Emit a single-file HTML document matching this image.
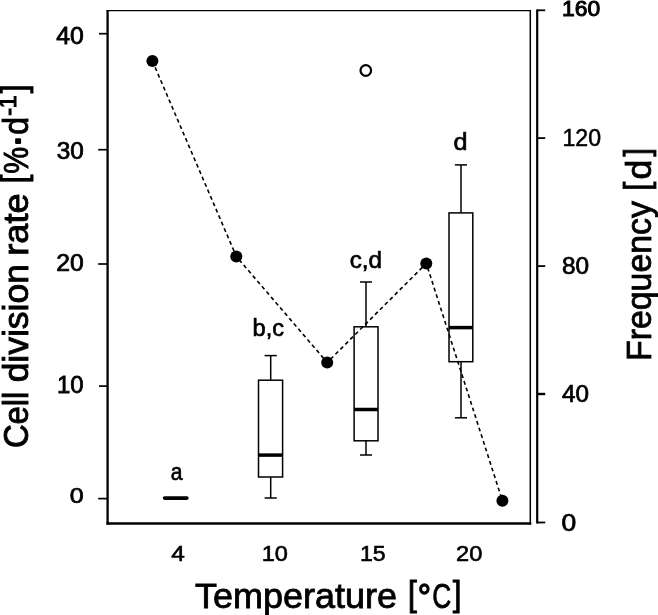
<!DOCTYPE html>
<html><head><meta charset="utf-8"><title>Cell division rate vs temperature</title>
<style>
html,body{margin:0;padding:0;background:#fff;}
svg{display:block;}
text{font-family:"Liberation Sans","DejaVu Sans",sans-serif;fill:#000;}
</style></head>
<body>
<svg width="658" height="615" viewBox="0 0 658 615">
<rect width="658" height="615" fill="#fff"/>
<!-- frame -->
<g stroke="#000" fill="none">
<line x1="107.6" y1="9.9" x2="107.6" y2="524.6" stroke-width="2.3"/>
<line x1="106.4" y1="523.5" x2="531.3" y2="523.5" stroke-width="2.5"/>
<line x1="106.5" y1="10.6" x2="530.9" y2="10.6" stroke-width="1.3"/>
<line x1="530.3" y1="10" x2="530.3" y2="524.6" stroke-width="1.5"/>
<!-- left ticks -->
<g stroke-width="1.7">
<line x1="99" y1="33.7" x2="107" y2="33.7"/>
<line x1="98.2" y1="149.7" x2="107" y2="149.7"/>
<line x1="98.2" y1="264" x2="107" y2="264"/>
<line x1="99" y1="386.1" x2="107" y2="386.1"/>
<line x1="98.2" y1="498.6" x2="107" y2="498.6"/>
</g>
<!-- right axis -->
<line x1="537.2" y1="9.4" x2="537.2" y2="523.4" stroke-width="2.2"/>
<g stroke-width="1.8">
<line x1="537" y1="10.3" x2="545.2" y2="10.3"/>
<line x1="537" y1="138.1" x2="545.2" y2="138.1"/>
<line x1="537" y1="266.1" x2="545.2" y2="266.1"/>
<line x1="537" y1="394" x2="545.2" y2="394" stroke-width="2.4"/>
<line x1="537" y1="522.5" x2="545.2" y2="522.5"/>
</g>
</g>
<!-- boxes -->
<g stroke="#000" stroke-width="1.5" fill="#fff">
<line x1="164.6" y1="498.1" x2="186.9" y2="498.1" stroke-width="3.6" stroke-linecap="round"/>
<!-- box 10 -->
<line x1="270.7" y1="355.6" x2="270.7" y2="498"/>
<line x1="264.6" y1="355.6" x2="276.8" y2="355.6"/>
<line x1="264.6" y1="498" x2="276.8" y2="498"/>
<rect x="258.5" y="380.2" width="24.1" height="96.8"/>
<line x1="258.5" y1="455.1" x2="282.6" y2="455.1" stroke-width="3.5"/>
<!-- box 15 -->
<line x1="366" y1="282" x2="366" y2="455"/>
<line x1="360" y1="282" x2="372" y2="282"/>
<line x1="360" y1="455" x2="372" y2="455"/>
<rect x="354.1" y="326.8" width="23.9" height="114"/>
<line x1="354.1" y1="409.5" x2="378" y2="409.5" stroke-width="3.5"/>
<!-- box 20 -->
<line x1="461" y1="164.9" x2="461" y2="417.8"/>
<line x1="454.9" y1="164.9" x2="467" y2="164.9"/>
<line x1="454.9" y1="417.8" x2="467" y2="417.8"/>
<rect x="449" y="212.9" width="23.8" height="148.8"/>
<line x1="449" y1="327.6" x2="472.8" y2="327.6" stroke-width="3.5"/>
</g>
<!-- dashed frequency line -->
<polyline points="152.4,61 236.3,256.4 327.2,362.5 426.3,263.4 502.4,500.7" fill="none" stroke="#000" stroke-width="1.6" stroke-dasharray="3.9 3.1"/>
<!-- points -->
<g fill="#000">
<circle cx="152.4" cy="61" r="6"/>
<circle cx="236.3" cy="256.4" r="6"/>
<circle cx="327.2" cy="362.5" r="6"/>
<circle cx="426.3" cy="263.4" r="6"/>
<circle cx="502.4" cy="500.7" r="6"/>
</g>
<circle cx="365.8" cy="70.5" r="5.3" fill="#fff" stroke="#000" stroke-width="2.2"/>
<g id="fitted">
<text id="l40" transform="translate(56.25,44.25) scale(1.0782,1)" font-size="23.00" stroke="#000" stroke-width="0.75">40</text>
<text id="l30" transform="translate(56.75,159.25) scale(1.0590,1)" font-size="23.00" stroke="#000" stroke-width="0.75">30</text>
<text id="l20" transform="translate(56.25,270.50) scale(1.0727,1)" font-size="23.00" stroke="#000" stroke-width="0.75">20</text>
<text id="l10" transform="translate(57.00,392.50) scale(1.0422,1)" font-size="23.00" stroke="#000" stroke-width="0.75">10</text>
<text id="l0" transform="translate(69.75,503.00) scale(1.0891,1)" font-size="23.00" stroke="#000" stroke-width="0.75">0</text>
<text id="r160" transform="translate(562.00,16.25) scale(1.0391,1)" font-size="22.00" stroke="#000" stroke-width="1.00">160</text>
<text id="r120" transform="translate(562.50,145.50) scale(1.0054,1)" font-size="23.00" stroke="#000" stroke-width="0.50">120</text>
<text id="r80" transform="translate(562.00,273.75) scale(1.0585,1)" font-size="23.00" stroke="#000" stroke-width="0.70">80</text>
<text id="r40" transform="translate(562.00,402.25) scale(1.0527,1)" font-size="23.00" stroke="#000" stroke-width="0.70">40</text>
<text id="r0" transform="translate(561.50,530.75) scale(1.1512,1)" font-size="23.00" stroke="#000" stroke-width="0.70">0</text>
<text id="x4" transform="translate(171.25,560.75) scale(1.0855,1)" font-size="22.50" stroke="#000" stroke-width="0.60">4</text>
<text id="x10" transform="translate(261.75,560.50) scale(1.0483,1)" font-size="22.50" stroke="#000" stroke-width="0.60">10</text>
<text id="x15" transform="translate(360.00,560.50) scale(1.0251,1)" font-size="22.50" stroke="#000" stroke-width="0.60">15</text>
<text id="x20" transform="translate(456.00,560.50) scale(1.0506,1)" font-size="22.50" stroke="#000" stroke-width="0.60">20</text>
<text id="la" transform="translate(170.75,480.00) scale(0.9055,1)" font-size="23.33" stroke="#000" stroke-width="0.65">a</text>
<text id="lbc" transform="translate(252.50,336.00) scale(1.0165,1)" font-size="23.24" stroke="#000" stroke-width="0.65">b,c</text>
<text id="lcd" transform="translate(349.75,268.00) scale(1.0001,1)" font-size="24.24" stroke="#000" stroke-width="0.65">c,d</text>
<text id="ld" transform="translate(453.50,150.25) scale(1.0386,1)" font-size="24.27" stroke="#000" stroke-width="0.65">d</text>
</g>
<g id="titles">
<text id="tx" transform="translate(0,608.00)" font-size="35.0" stroke="#000" stroke-width="0.80"><tspan id="tx1" x="195.00" textLength="202.10" lengthAdjust="spacingAndGlyphs">Temperature</tspan> <tspan id="tx2a" x="407.65" textLength="9.20" lengthAdjust="spacingAndGlyphs" dy="-2">[</tspan><tspan id="tx2b" x="417.70" textLength="13.25" lengthAdjust="spacingAndGlyphs" font-size="36" dy="4.2" stroke-width="1.4">°</tspan><tspan id="tx2c" x="432.20" textLength="19.00" lengthAdjust="spacingAndGlyphs" dy="-1.9">C</tspan><tspan id="tx2d" x="452.80" textLength="8.75" lengthAdjust="spacingAndGlyphs" dy="-2">]</tspan></text>
<text id="ty" transform="translate(27.50,0) rotate(-90)" font-size="35.0" stroke="#000" stroke-width="0.90"><tspan id="ty1" x="-448.10" textLength="56.50" lengthAdjust="spacingAndGlyphs">Cell</tspan> <tspan id="ty2" x="-382.35" textLength="118.20" lengthAdjust="spacingAndGlyphs">division</tspan> <tspan id="ty3" x="-255.70" textLength="62.30" lengthAdjust="spacingAndGlyphs">rate</tspan> <tspan id="ty4a" x="-183.55" textLength="8.95" lengthAdjust="spacingAndGlyphs" dy="-2">[</tspan><tspan id="ty4b" x="-173.75" textLength="26.85" lengthAdjust="spacingAndGlyphs" dy="2">%</tspan><tspan id="ty4c" x="-147.25" textLength="12.15" lengthAdjust="spacingAndGlyphs" stroke-width="2.2" stroke-linejoin="round">·</tspan><tspan id="ty4d" x="-134.70" textLength="17.85" lengthAdjust="spacingAndGlyphs">d</tspan><tspan id="ty5" x="-115.85" textLength="20.50" lengthAdjust="spacingAndGlyphs" font-size="24" dy="-11.2" stroke-width="1.1">-1</tspan><tspan id="ty6" x="-93.35" textLength="8.90" lengthAdjust="spacingAndGlyphs" dy="9.2">]</tspan></text>
<text id="tz" transform="translate(651.30,0) rotate(-90)" font-size="35.0" stroke="#000" stroke-width="0.80"><tspan id="tz1" x="-361.05" textLength="160.00" lengthAdjust="spacingAndGlyphs">Frequency</tspan> <tspan id="tz2a" x="-190.95" textLength="9.30" lengthAdjust="spacingAndGlyphs" dy="-2">[</tspan><tspan id="tz2b" x="-179.60" textLength="19.85" lengthAdjust="spacingAndGlyphs" dy="2">d</tspan><tspan id="tz2c" x="-156.85" textLength="8.90" lengthAdjust="spacingAndGlyphs" dy="-2">]</tspan></text>
</g>
</svg>
</body></html>
